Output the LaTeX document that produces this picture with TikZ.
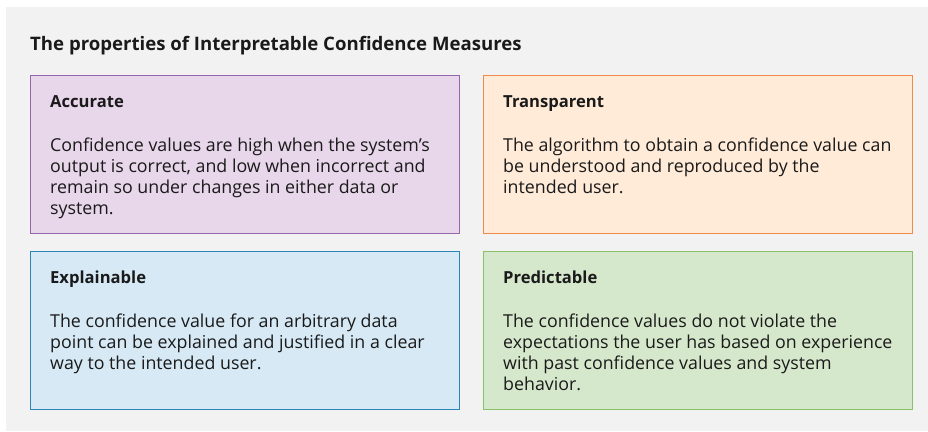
\documentclass[tikz,border=0pt]{standalone}
\usepackage{fontspec}
\setmainfont{Open Sans}
\definecolor{panelgrey}{HTML}{F2F2F2}
\definecolor{accfill}{HTML}{E8D6EA}
\definecolor{accline}{HTML}{9467AC}
\definecolor{trafill}{HTML}{FFEBD8}
\definecolor{traline}{HTML}{F08A4B}
\definecolor{expfill}{HTML}{D6E9F5}
\definecolor{expline}{HTML}{2B86B5}
\definecolor{prefill}{HTML}{D6E8CC}
\definecolor{preline}{HTML}{8AC06A}
\definecolor{inktext}{HTML}{1A1A1A}
\tikzset{
  propbox/.style={draw, rectangle, line width=1.4pt, minimum width=429pt,
    minimum height=158pt, anchor=north west, inner sep=0pt},
  proptitle/.style={anchor=base west, inner sep=0pt, text=inktext,
    font=\fontsize{16.6}{21}\selectfont\bfseries},
  proptext/.style={anchor=north west, inner sep=0pt, text=inktext, align=left,
    font=\fontsize{17.8}{21}\selectfont},
  heading/.style={anchor=base west, inner sep=0pt, text=inktext,
    font=\fontsize{18.6}{22}\selectfont\bfseries}
}
\begin{document}
\begin{tikzpicture}[x=1pt,y=-1pt]
\useasboundingbox (0,0) rectangle (928,431);
\fill[panelgrey] (6,7) rectangle (928,431);

\node[heading] (head) at (30,50) {The properties of Interpretable Confidence Measures};

\node[propbox, fill=accfill, draw=accline] (accurate) at (30,75) {};
\node[propbox, fill=trafill, draw=traline] (transparent) at (483,75) {};
\node[propbox, fill=expfill, draw=expline] (explainable) at (30,251) {};
\node[propbox, fill=prefill, draw=preline] (predictable) at (483,251) {};

\node[proptitle] (accurate-t) at (50,107) {Accurate};
\node[proptext] (accurate-b) at (50,137.5) {Confidence values are high when the system’s\\output is correct, and low when incorrect and\\remain so under changes in either data or\\system.};

\node[proptitle] (transparent-t) at (503,107) {Transparent};
\node[proptext] (transparent-b) at (503,137.5) {The algorithm to obtain a confidence value can\\be understood and reproduced by the\\intended user.};

\node[proptitle] (explainable-t) at (50,283) {Explainable};
\node[proptext] (explainable-b) at (50,313.5) {The confidence value for an arbitrary data\\point can be explained and justified in a clear\\way to the intended user.};

\node[proptitle] (predictable-t) at (503,283) {Predictable};
\node[proptext] (predictable-b) at (503,313.5) {The confidence values do not violate the\\expectations the user has based on experience\\with past confidence values and system\\behavior.};

\end{tikzpicture}
\end{document}
